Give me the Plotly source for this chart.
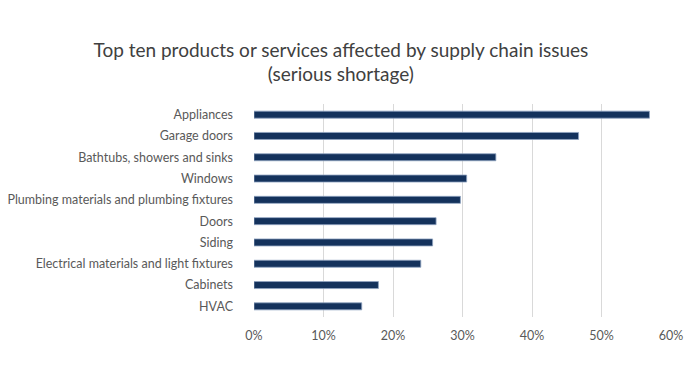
import plotly.graph_objects as go

categories = ["Appliances", "Garage doors", "Bathtubs, showers and sinks", "Windows",
              "Plumbing materials and plumbing fixtures", "Doors", "Siding",
              "Electrical materials and light fixtures", "Cabinets", "HVAC"]
values = [0.569, 0.467, 0.348, 0.306, 0.297, 0.262, 0.257, 0.240, 0.179, 0.155]
tick_vals = [0, 0.1, 0.2, 0.3, 0.4, 0.5, 0.6]
tick_text = ["0%", "10%", "20%", "30%", "40%", "50%", "60%"]

fig = go.Figure(go.Bar(
    x=values, y=categories, orientation="h",
    marker=dict(color="#14325c", line=dict(color="#8fa3c0", width=0.8)),
))

fig.update_layout(
    width=700, height=375,
    margin=dict(l=254, r=29, t=104, b=58),
    paper_bgcolor="white", plot_bgcolor="white",
    bargap=0.67,
    showlegend=False,
    font=dict(family="Lato, Open Sans, sans-serif", size=12, color="#595959"),
    title=dict(
        text="Top ten products or services affected by supply chain issues<br>(serious shortage)",
        x=0.487, xanchor="center", y=0.849, yanchor="middle",
        font=dict(size=19, color="#404040"),
    ),
    xaxis=dict(range=[0, 0.6], tickvals=tick_vals, ticktext=tick_text,
               showgrid=True, gridcolor="#d9d9d9", gridwidth=1,
               zeroline=False, showline=False, ticks="", fixedrange=True,
               ticklabelstandoff=9, tickfont=dict(size=12.5), automargin=False),
    yaxis=dict(autorange="reversed", showgrid=False, showline=False, ticks="",
               ticklabelstandoff=20, tickfont=dict(size=12.5), automargin=False,
               fixedrange=True),
)

fig.write_html("out.html", post_script="document.body.style.margin='0';",
               config={"displayModeBar": False, "staticPlot": True})
